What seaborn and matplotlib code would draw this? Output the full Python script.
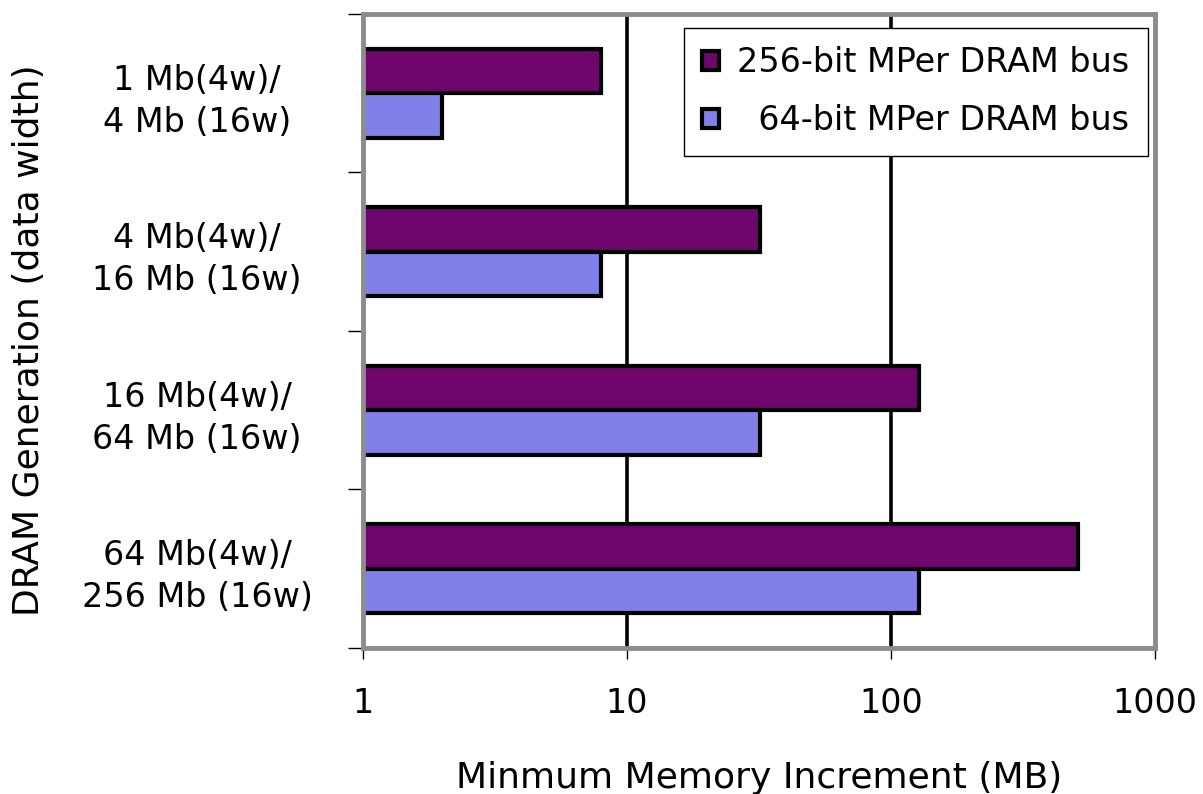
import pandas as pd
import matplotlib.pyplot as plt
import matplotlib.ticker as mticker
import seaborn as sns

# chart data
generations = ['1 Mb(4w)/\n4 Mb (16w)', '4 Mb(4w)/\n16 Mb (16w)',
               '16 Mb(4w)/\n64 Mb (16w)', '64 Mb(4w)/\n256 Mb (16w)']
bus_256 = [8, 32, 128, 512]
bus_64 = [2, 8, 32, 128]
series_names = ['256-bit MPer DRAM bus', '  64-bit MPer DRAM bus']
x_ticks = [1, 10, 100, 1000]

data = pd.DataFrame({
    'Generation': generations * 2,
    'Increment': bus_256 + bus_64,
    'Bus': [series_names[0]] * 4 + [series_names[1]] * 4,
})

sns.set_style('white')
plt.rcParams['font.family'] = ['DejaVu Sans']
plt.rcParams['text.color'] = 'black'
plt.rcParams['axes.labelcolor'] = 'black'
plt.rcParams['xtick.color'] = 'black'
plt.rcParams['ytick.color'] = 'black'

fig = plt.figure(figsize=(12.03, 7.94), dpi=100)
ax = fig.add_axes([0.3017, 0.1839, 0.6583, 0.7985])

sns.barplot(data=data, x='Increment', y='Generation', hue='Bus',
            hue_order=series_names, order=generations, orient='h',
            palette=['#6E066E', '#8080E8'], width=0.56, gap=0,
            edgecolor='black', linewidth=3.0, saturation=1, ax=ax)

ax.set_xscale('log')
ax.set_xlim(1, 1000)
ax.set_ylim(3.5, -0.5)
ax.xaxis.set_major_locator(mticker.FixedLocator(x_ticks))
ax.xaxis.set_minor_locator(mticker.NullLocator())
ax.set_xticklabels([str(t) for t in x_ticks], fontsize=24)
ax.tick_params(axis='x', which='major', direction='out', length=8, width=1,
               color='black', pad=20, bottom=True)

# y ticks between categories, labels at category centres
ax.yaxis.set_minor_locator(mticker.FixedLocator([-0.5, 0.5, 1.5, 2.5, 3.5]))
ax.tick_params(axis='y', which='minor', direction='out', length=11, width=1,
               color='black', left=True)
ax.tick_params(axis='y', which='major', length=0, pad=0)
for lab in ax.get_yticklabels():
    lab.set_fontsize(24)
    lab.set_multialignment('center')
    lab.set_linespacing(1.35)
    lab.set_horizontalalignment('center')
    lab.set_x(-0.2096)

ax.grid(False)
for v in [10, 100]:
    ax.axvline(v, color='black', linewidth=2.6, zorder=0)
ax.set_axisbelow(True)

for s in ax.spines.values():
    s.set_visible(True)
    s.set_color('#8c8c8c')
    s.set_linewidth(3.5)

ax.set_xlabel('Minmum Memory Increment (MB)', fontsize=26)
ax.xaxis.set_label_coords(0.5, -0.178)
ax.set_ylabel('DRAM Generation (data width)', fontsize=26)
ax.yaxis.set_label_coords(-0.40, 0.486)

leg = ax.legend(loc='upper right', bbox_to_anchor=(0.991, 0.978), fontsize=24,
                frameon=True, fancybox=False, edgecolor='black',
                handlelength=0.5, handleheight=0.5, handletextpad=0.55,
                borderpad=0.55, labelspacing=0.75, borderaxespad=0,
                framealpha=1)
leg.get_frame().set_linewidth(1)
for h in leg.legend_handles:
    h.set_linewidth(3.0)

fig.savefig('out.png', dpi=100)
